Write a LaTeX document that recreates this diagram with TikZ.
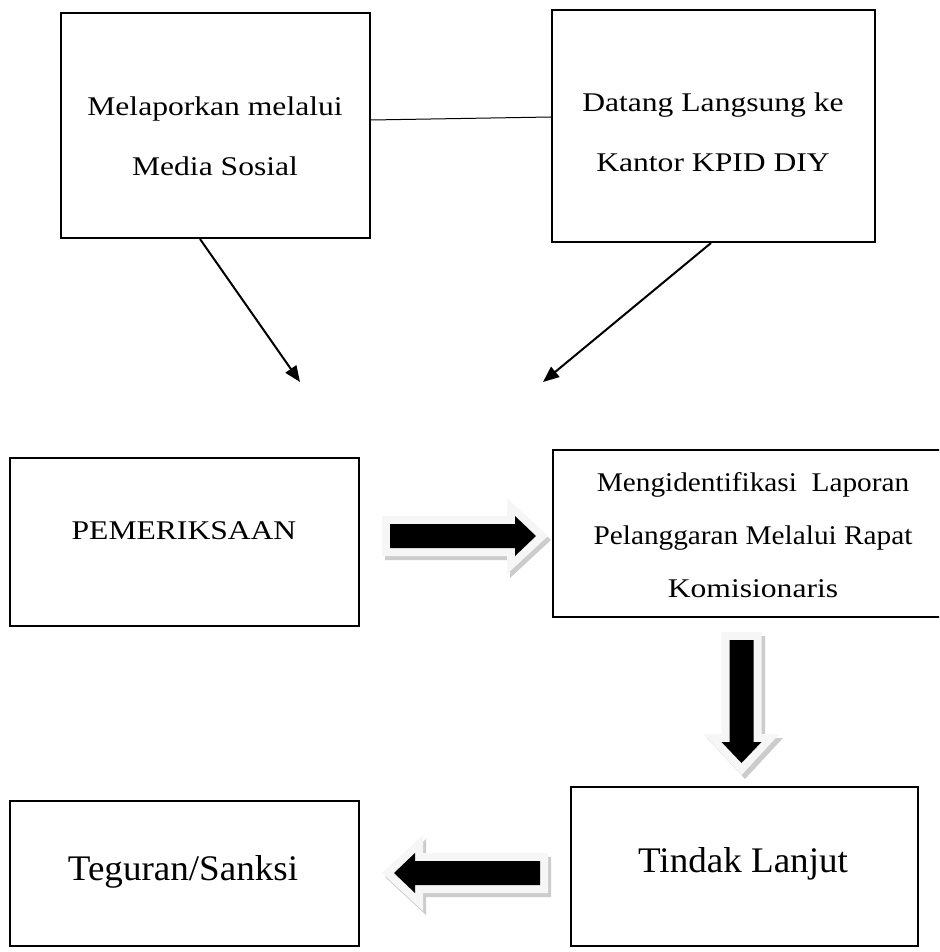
\documentclass[tikz,border=0pt]{standalone}
\usepackage{fontspec}
\setmainfont{Liberation Serif}
\newfontfamily\wideA[FakeStretch=1.17]{Liberation Serif}
\newfontfamily\wideB[FakeStretch=1.085]{Liberation Serif}
\newfontfamily\wideC[FakeStretch=1.03]{Liberation Serif}
\usetikzlibrary{arrows.meta,calc}
\tikzset{
  pics/arrshadow/.style={code={
    \fill[gray!40] (-#1,-20)--(#1-41,-20)--(#1-41,-38)--(#1,0)--(#1-41,38)--(#1-41,20)--(-#1,20)--cycle;}},
  pics/arrbody/.style={code={
    \fill[gray!7] (-#1,-20)--(#1-41,-20)--(#1-41,-38)--(#1,0)--(#1-41,38)--(#1-41,20)--(-#1,20)--cycle;
    \fill[black] (-#1+8,-12)--(#1-33,-12)--(#1-33,-20)--(#1-12,0)--(#1-33,20)--(#1-33,12)--(-#1+8,12)--cycle;}}
}
\begin{document}
\begin{tikzpicture}[x=1pt,y=-1pt,
  box/.style={draw, line width=2pt, inner sep=0pt},
  txt/.style={align=center, inner sep=0pt, font=\wideA\fontsize{27}{60}\selectfont},
  bigtxt/.style={align=center, inner sep=0pt, font=\wideC\fontsize{36}{44}\selectfont},
  conn/.style={line width=2pt, -{Triangle[length=16pt,width=13pt]}},
  link/.style={line width=1pt}]
\clip (0,0) rectangle (939,952);
\fill[white] (0,0) rectangle (939,952);

% boxes
\node[box, minimum width=309pt, minimum height=225pt] (b1) at (215.5,125.5) {};
\node[box, minimum width=323pt, minimum height=232pt] (b2) at (713.5,126) {};
\node[box, minimum width=349pt, minimum height=168pt] (b3) at (184.5,542) {};
\node[box, minimum width=400pt, minimum height=167pt] (b4) at (753,533.5) {};
\node[box, minimum width=347pt, minimum height=159pt] (b5) at (744.5,866.5) {};
\node[box, minimum width=349pt, minimum height=145pt] (b6) at (184.5,873.5) {};

% texts
\node[txt] (t1) at (215,136) {Melaporkan melalui\\Media Sosial};
\node[txt] (t2) at (713,132) {Datang Langsung ke\\Kantor KPID DIY};
\node[txt] (t3) at (184,531) {PEMERIKSAAN};
\node[txt, font=\wideB\fontsize{27}{53}\selectfont] (t4) at (753,535.5) {Mengidentifikasi\ \ Laporan\\Pelanggaran Melalui Rapat\\{\wideA Komisionaris}};
\node[bigtxt] (t5) at (743,863.5) {Tindak Lanjut};
\node[bigtxt] (t6) at (183,871.5) {Teguran/Sanksi};

% connectors
\draw[link] ([yshift=5.5pt]b1.east) -- ([yshift=9pt]b2.west);
\coordinate (e1) at (300,382);
\coordinate (e2) at (543,382);
\draw[conn] ([xshift=-15.5pt]b1.south) -- (e1);
\draw[conn] ([xshift=-2.5pt]b2.south) -- (e2);

% block arrows
\pic at (468,540) {arrshadow=83};
\pic at (465,536) {arrbody=83};
\pic[rotate=-90] at (745,707.5) {arrshadow=71.5};
\pic[rotate=-90] at (741.5,703.5) {arrbody=71.5};
\pic[rotate=180] at (468,877) {arrshadow=83};
\pic[rotate=180] at (465,873) {arrbody=83};
\end{tikzpicture}
\end{document}
